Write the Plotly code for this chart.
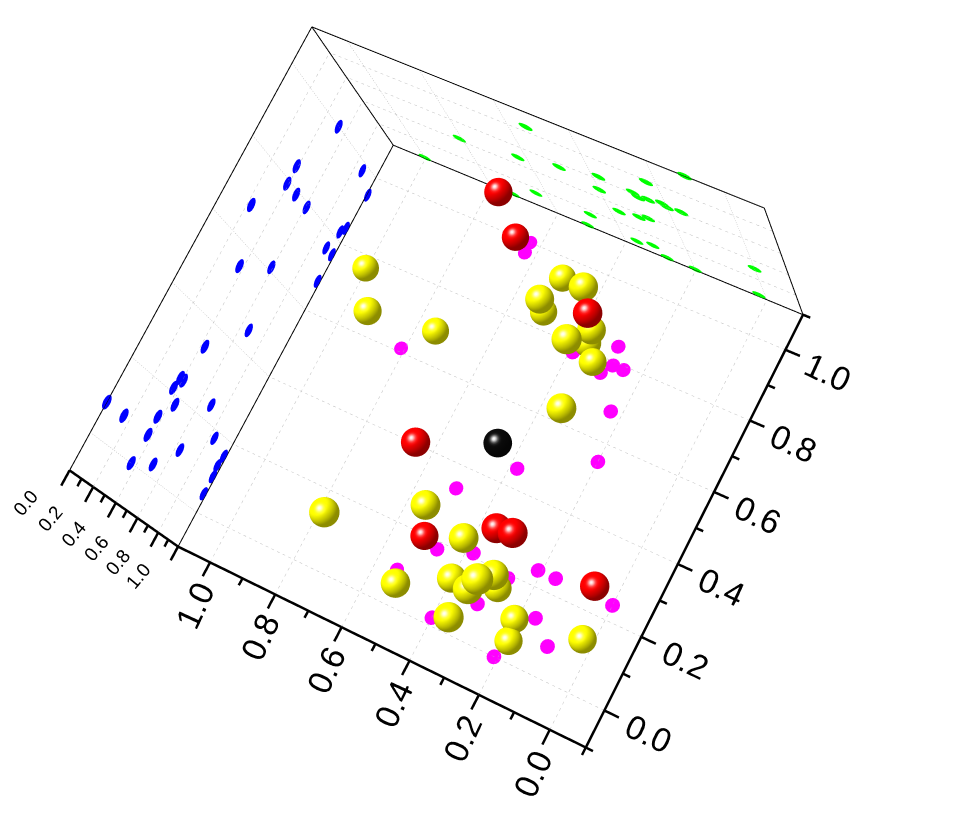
import numpy as np
import plotly.graph_objects as go

# ---- data ----
red_x = [0.634,0.635,0.253,0.497,0.476,0.211,0.166,-0.002]
red_y = [1.001,0.974,0.788,0.343,0.184,0.235,0.239,0.236]
red_z = [0.525,0.865,0.395,0.435,0.845,0.400,0.380,0.690]
black_x = [0.373]
black_y = [0.450]
black_z = [0.670]
yellow_x = [0.997,0.813,0.742,0.507,0.291,0.402,0.505,0.278,0.227,0.355,0.309,0.198,0.537,0.383,0.280,0.398,0.311,0.199,0.159,0.279,0.099,0.204,0.192,0.208,0.023]
yellow_y = [0.763,0.607,0.685,0.947,0.841,0.790,0.843,0.789,0.684,0.809,0.763,0.552,0.078,0.211,0.185,0.026,0.103,0.077,0.132,0.156,0.078,0.105,0.050,-0.001,0.131]
yellow_z = [0.980,0.590,0.980,1.000,0.390,0.495,0.980,0.610,0.225,0.950,0.905,0.375,0.155,0.365,0.435,0.510,0.635,0.375,0.375,0.985,0.000,0.985,0.985,0.370,0.970]
blue_yz = [100,53,84,39,98,87,79,39,79,49,79,61,95,101,68,23,84,98,82,95,76,91,76,98,68,98,55,37,61,59,45,67,34,43,24,38,24,41,21,37,18,44,24,69,13,37,8,15,8,0,8,37,18,84,10,64,0,36,3,51,16,98,13,97,10,98,5,98]
green_xz = [54,15,81,58,100,99,63,52,50,44,38,37,10,0,23,22,40,51,64,86,73,99,29,39,28,42,25,40,21,38,20,40,16,39,37,67,48,85,31,64,28,61,51,99,36,94,31,91,28,99,20,99,0,69,2,98]
magenta_xy = [63,100,63,97,29,84,28,79,25,79,30,76,23,68,39,78,50,34,47,18,38,21,21,24,16,24,0,24,16,13,10,8,21,0,31,10,40,2,54,9,27,19,81,61,20,55,38,45]
tick_vals = [0,0.2,0.4,0.6,0.8,1.0]
tick_text = ["0.0","0.2","0.4","0.6","0.8","1.0"]

# ---- camera recovered from the box corners ----
XR=[-0.16,1.16]; YR=[-0.16,1.16]; ZR=[-0.06,1.06]
anchors=[((-.1,-.1,1),(585,746)),((1.1,-.1,1),(177,546)),((-.1,1.1,1),(802,314)),((1.1,1.1,1),(393,145)),((1.1,-.1,0),(69,470)),((1.1,1.1,0),(311,27)),((-.1,1.1,0),(764,208)),((-.1,0,1),(604,712)),((-.1,1,1),(785,350)),((1,-.1,1),(210,563))]
A=[]
for (X,Y,Z),(u,v) in anchors:
    A.append([X,Y,Z,1,0,0,0,0,-u*X,-u*Y,-u*Z,-u]);A.append([0,0,0,0,X,Y,Z,1,-v*X,-v*Y,-v*Z,-v])
P=np.linalg.svd(np.array(A))[2][-1].reshape(3,4)
if (P[2]@np.array([.5,.5,.5,1]))<0: P=-P
px,py,f=471.0,424.0,float(np.sqrt(6599651))
K=np.array([[f,0,px],[0,f,py],[0,0,1.0]])
Q=np.linalg.solve(K,P[:,:3])
D=np.linalg.norm(Q,axis=0)
U,_,Vt=np.linalg.svd(Q/D); R=U@Vt
cam=-np.linalg.solve(P[:,:3],P[:,3])
c0=np.array([.5,.5,.5])
k=D/(D[0]*1.2)
eye=(cam-c0)*k
right,down,fwd=R[0],R[1],R[2]
if fwd@(-eye)<0: fwd=-fwd
dist=float(np.linalg.norm(eye))
ctr=eye+fwd*dist
asp=k*np.array([XR[1]-XR[0],YR[1]-YR[0],ZR[1]-ZR[0]])
H=f/(1/np.tan(np.pi/8)/2)
W=961
H=int(round(H))
LEFT=px-W/2; TOP=py-H/2
pxs=dist/f  # scene units per pixel at the box centre

fig=go.Figure()
def lines(segs,color,width):
    xs,ys,zs=[],[],[]
    for a,b in segs:
        xs+=[a[0],b[0],None];ys+=[a[1],b[1],None];zs+=[a[2],b[2],None]
    fig.add_trace(go.Scatter3d(x=xs,y=ys,z=zs,mode="lines",line=dict(color=color,width=width),hoverinfo="skip",showlegend=False))
def dotted(a,b,period=0.017):
    a=np.array(a,float);b=np.array(b,float)
    n=int(np.linalg.norm(b-a)/period)
    out=[]
    for i in range(n):
        s=a+(b-a)*i/n; e=a+(b-a)*(i+.45)/n
        out.append((tuple(s),tuple(e)))
    return out
# grid
g=[]
for t in tick_vals:
    g+=dotted((t,-.1,1),(t,1.1,1))+dotted((-.1,t,1),(1.1,t,1))
    g+=dotted((1.1,t,0),(1.1,t,1))+dotted((t,1.1,0),(t,1.1,1))
for t in tick_vals[1:-1]:
    g+=dotted((1.1,-.1,t),(1.1,1.1,t))+dotted((-.1,1.1,t),(1.1,1.1,t))
lines(g,"#c0c0c0",1)
# box
lines([((1.1,1.1,1),(1.1,-.1,1)),((1.1,1.1,1),(-.1,1.1,1)),((1.1,1.1,1),(1.1,1.1,0)),((1.1,1.1,0),(1.1,-.1,0)),((1.1,1.1,0),(-.1,1.1,0)),((-.1,1.1,0),(-.1,1.1,1))],"#000",2)
# axes with major/minor ticks
ax=[((-.1,-.1,1),(1.1,-.1,1)),((-.1,-.1,1),(-.1,1.1,1)),((1.1,-.1,0),(1.1,-.1,1))]
tk=np.round(np.arange(-1,12)*0.1,1)
for t in tk:
    L=.04 if (0<=t<=1 and abs(t*5-round(t*5))<1e-6) else .02
    ax+=[((t,-.1,1),(t,-.1-L,1)),((-.1,t,1),(-.1-L,t,1))]
    if 0<=t<=1: ax+=[((1.1,-.1,t),(1.1,-.1-L,t))]
lines(ax,"#000",5)

def disks(cx,cy,cz,normal,rpx,color):
    n=16;th=np.linspace(0,2*np.pi,n,endpoint=False)
    r=rpx*pxs/k
    X,Y,Z,I,J,KK=[],[],[],[],[],[]
    for a,b,c in zip(cx,cy,cz):
        base=len(X);X.append(a);Y.append(b);Z.append(c)
        for t in th:
            u,v=np.cos(t),np.sin(t)
            o=[a,b,c];idx=[i for i in range(3) if i!=normal]
            o[idx[0]]+=u*r[idx[0]];o[idx[1]]+=v*r[idx[1]]
            X.append(o[0]);Y.append(o[1]);Z.append(o[2])
        for j in range(n):
            I.append(base);J.append(base+1+j);KK.append(base+1+(j+1)%n)
    fig.add_trace(go.Mesh3d(x=X,y=Y,z=Z,i=I,j=J,k=KK,color=color,flatshading=True,hoverinfo="skip",showscale=False,
        lighting=dict(ambient=1,diffuse=0,specular=0,fresnel=0)))
b=np.array(blue_yz)/100; gr=np.array(green_xz)/100; m=np.array(magenta_xy)/100
disks([1.1]*len(b[::2]),b[::2],b[1::2],0,7.8,"#0000ff")
disks(gr[::2],[1.1]*len(gr[::2]),gr[1::2],1,7.8,"#00ff00")
disks(m[::2],m[1::2],[1.0]*len(m[::2]),2,7.8,"#ff00ff")

def spheres(xs,ys,zs,base):
    nu,nv=40,26
    th=np.linspace(0,np.pi,nv+1);ph=np.linspace(0,2*np.pi,nu,endpoint=False)
    T,Pp=np.meshgrid(th,ph,indexing="ij")
    sx,sy,sz=(np.sin(T)*np.cos(Pp)).ravel(),(np.sin(T)*np.sin(Pp)).ravel(),np.cos(T).ravel()
    r=14.5*pxs/k
    # shading baked per vertex: light from the upper left, towards the viewer
    n=np.stack([sx,sy,sz],axis=1)
    nv3=np.stack([n@right,-(n@down),-(n@fwd)],axis=1)
    Ld=np.array([-.75,.85,1.0]);Ld/=np.linalg.norm(Ld)
    Hv=Ld+np.array([0,0,1.0]);Hv/=np.linalg.norm(Hv)
    dif=np.clip(0.55+0.6*np.clip(nv3@Ld,0,1),0,1)
    spc=np.clip(nv3@Hv,0,1)**30
    rgb=np.clip(np.outer(dif,np.array(base,float))+255*spc[:,None],0,255).astype(int)
    cols=["rgb(%d,%d,%d)"%tuple(c) for c in rgb]
    ii,jj,kk=[],[],[]
    for a in range(nv):
        for c in range(nu):
            p=a*nu+c;q=a*nu+(c+1)%nu;s=(a+1)*nu+c;t=(a+1)*nu+(c+1)%nu
            ii+=[p,q];jj+=[q,t];kk+=[s,s]
    ii,jj,kk=np.array(ii),np.array(jj),np.array(kk)
    X,Y,Z,I,J,KK,VC=[],[],[],[],[],[],[]
    for o,(a,b_,c) in enumerate(zip(xs,ys,zs)):
        X.append(a+r[0]*sx);Y.append(b_+r[1]*sy);Z.append(c+r[2]*sz)
        I.append(ii+o*len(sx));J.append(jj+o*len(sx));KK.append(kk+o*len(sx));VC+=cols
    fig.add_trace(go.Mesh3d(x=np.concatenate(X),y=np.concatenate(Y),z=np.concatenate(Z),i=np.concatenate(I),j=np.concatenate(J),k=np.concatenate(KK),
        vertexcolor=VC,hoverinfo="skip",showscale=False,
        lighting=dict(ambient=1,diffuse=0,specular=0,fresnel=0)))
spheres(red_x,red_y,red_z,(255,0,0))
spheres(black_x,black_y,black_z,(12,12,12))
spheres(yellow_x,yellow_y,yellow_z,(255,255,0))

def axis(rng,size,angle):
    return dict(range=rng,tickvals=tick_vals,ticktext=tick_text,showgrid=False,zeroline=False,showline=False,showbackground=False,tickangle=angle,
                showspikes=False,title=dict(text=""),ticks="",tickfont=dict(family="Liberation Sans",size=size,color="#000"))
fig.update_layout(width=W,height=H,margin=dict(l=0,r=0,t=0,b=0),paper_bgcolor="#fff",showlegend=False,
    scene=dict(domain=dict(x=[0,1],y=[0,1]),aspectmode="manual",aspectratio=dict(x=asp[0],y=asp[1],z=asp[2]),dragmode="orbit",
        xaxis=axis(XR,20,-65),yaxis=axis(YR,20,25),zaxis=axis(ZR,15,-50),
        camera=dict(eye=dict(x=eye[0],y=eye[1],z=eye[2]),center=dict(x=ctr[0],y=ctr[1],z=ctr[2]),up=dict(x=-down[0],y=-down[1],z=-down[2]))))
post=("var g=document.getElementById('{plot_id}');g.style.position='absolute';g.style.left='%.1fpx';g.style.top='%.1fpx';"
      "document.documentElement.style.overflow='hidden';document.body.style.overflow='hidden';")%(LEFT,TOP)
fig.write_html("out.html",post_script=post,default_width="%dpx"%W,default_height="%dpx"%H,config=dict(displayModeBar=False))
